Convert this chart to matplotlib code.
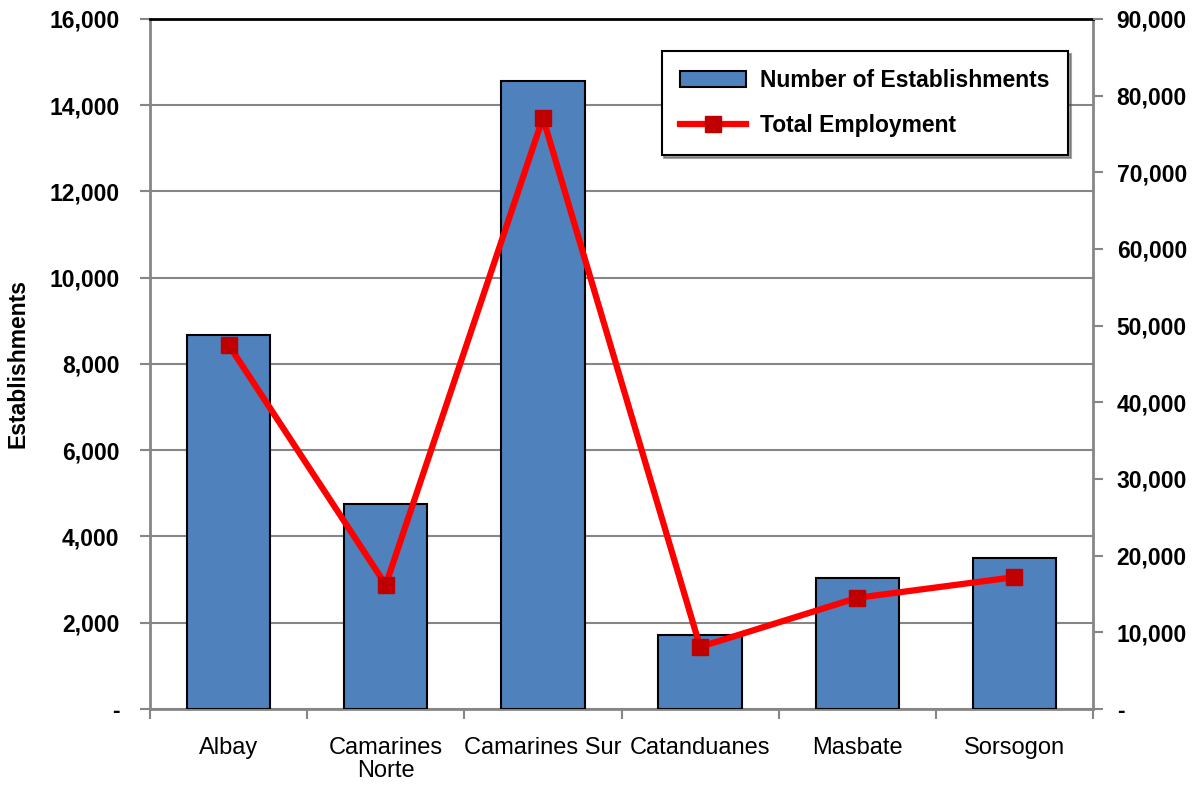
import numpy as np
import matplotlib.pyplot as plt
from matplotlib.ticker import FuncFormatter, FixedLocator

provinces = ['Albay', 'Camarines\nNorte', 'Camarines Sur', 'Catanduanes', 'Masbate', 'Sorsogon']
establishments = [8670, 4750, 14560, 1715, 3040, 3500]
employment = [47500, 16200, 77100, 8100, 14500, 17200]

bold = {'family': ['Liberation Sans', 'DejaVu Sans'], 'weight': 'bold', 'size': 16.5}
grey = '#868686'

def dash_zero(v, pos):
    return '-' if v == 0 else f'{v:,.0f}'

fig = plt.figure(figsize=(12.03, 7.87), dpi=100)
ax = fig.add_axes([0.1247, 0.0991, 0.9086 - 0.1247, 0.9759 - 0.0991])
x = np.arange(len(provinces))

bars = ax.bar(x, establishments, width=0.53, color='#4F81BD', edgecolor='black',
              linewidth=1.5, zorder=3, label='Number of Establishments')
ax.set_xlim(-0.5, 5.5)
ax.set_ylim(0, 16000)
ax.set_yticks(np.arange(0, 16001, 2000))
ax.yaxis.set_major_formatter(FuncFormatter(dash_zero))
ax.grid(axis='y', color=grey, linewidth=1.5, zorder=0)
ax.set_axisbelow(True)
ax.set_ylabel('Establishments', fontdict=bold, labelpad=14)

ax.set_xticks(x)
ax.set_xticklabels(provinces, family=['Liberation Sans Narrow', 'Liberation Sans'], size=17,
                   linespacing=1.05)
ax.xaxis.set_minor_locator(FixedLocator(np.arange(-0.5, 6, 1)))
ax.tick_params(axis='x', which='major', length=0, pad=20)
ax.tick_params(axis='x', which='minor', length=7, width=1.5, color=grey)
ax.tick_params(axis='y', length=7, width=1.5, color=grey, pad=15)
for lbl in ax.get_yticklabels():
    lbl.set_fontproperties({'family': 'Liberation Sans', 'weight': 'bold', 'size': 16.5})

for side in ['left', 'bottom', 'right']:
    ax.spines[side].set_color(grey)
    ax.spines[side].set_linewidth(2)
ax.spines['top'].set_color('black')
ax.spines['top'].set_linewidth(2)

ax2 = ax.twinx()
line, = ax2.plot(x, employment, color='#FF0000', linewidth=4.5, marker='s', markersize=11,
                 markerfacecolor='#C00000', markeredgecolor='#C00000', zorder=5,
                 label='Total Employment')
ax2.set_ylim(0, 90000)
ax2.set_yticks(np.arange(0, 90001, 10000))
ax2.yaxis.set_major_formatter(FuncFormatter(dash_zero))
ax2.tick_params(axis='y', length=7, width=1.5, color=grey, pad=10)
for lbl in ax2.get_yticklabels():
    lbl.set_fontproperties({'family': 'Liberation Sans', 'weight': 'bold', 'size': 16.5})
for side in ax2.spines:
    ax2.spines[side].set_visible(False)

leg = ax2.legend([bars, line], ['Number of Establishments', 'Total Employment'],
                 loc='upper right', bbox_to_anchor=(0.9735, 0.9536), borderaxespad=0,
                 fancybox=False, shadow=True, framealpha=1, edgecolor='black',
                 borderpad=0.8, labelspacing=0.95, handlelength=2.9, handletextpad=0.6,
                 prop={'family': 'Liberation Sans', 'weight': 'bold', 'size': 16.5})
leg.get_frame().set_linewidth(1.5)

fig.savefig('out.png', dpi=100)
